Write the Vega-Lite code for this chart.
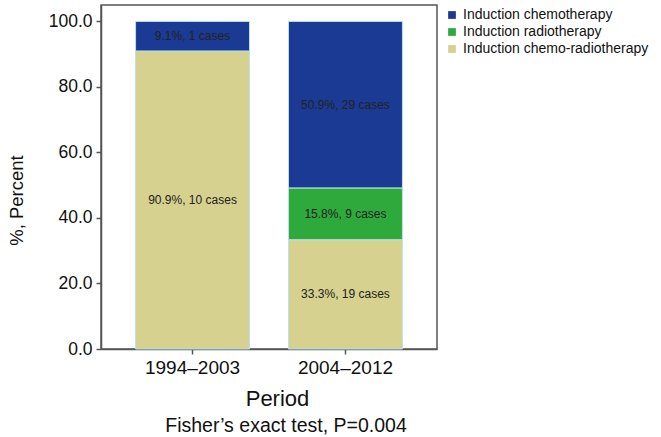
{
  "$schema": "https://vega.github.io/schema/vega-lite/v6.json",
  "width": 336,
  "height": 344,
  "autosize": {"type": "none"},
  "padding": {"left": 101, "top": 5, "right": 224, "bottom": 88},
  "background": "white",
  "config": {
    "view": {"stroke": "#555", "strokeWidth": 1.5},
    "font": "Liberation Sans"
  },
  "title": {
    "text": "Fisher’s exact test, P=0.004",
    "orient": "bottom",
    "anchor": "middle",
    "fontSize": 19.5,
    "fontWeight": "normal",
    "color": "#111",
    "font": "Liberation Sans",
    "offset": 8,
    "dx": 17
  },
  "data": {
    "values": [
      {"period": "1994–2003", "type": "Induction chemotherapy", "pct": 9.1, "cases": 1, "ord": 3},
      {"period": "1994–2003", "type": "Induction chemo-radiotherapy", "pct": 90.9, "cases": 10, "ord": 1},
      {"period": "2004–2012", "type": "Induction chemotherapy", "pct": 50.9, "cases": 29, "ord": 3},
      {"period": "2004–2012", "type": "Induction radiotherapy", "pct": 15.8, "cases": 9, "ord": 2},
      {"period": "2004–2012", "type": "Induction chemo-radiotherapy", "pct": 33.3, "cases": 19, "ord": 1}
    ]
  },
  "layer": [
    {
      "mark": {"type": "bar", "stroke": "#b9e1ea", "strokeWidth": 1},
      "encoding": {
        "x": {
          "field": "period", "type": "nominal",
          "scale": {"paddingInner": 0.255, "paddingOuter": 0.226},
          "axis": {
            "title": "Period", "labelAngle": 0, "labelFontSize": 19, "titleFontSize": 22,
            "titleFontWeight": "normal", "labelColor": "#111", "titleColor": "#111",
            "domainColor": "#555", "domainWidth": 1.5, "tickColor": "#555", "tickWidth": 1.5,
            "tickSize": 5, "labelPadding": 4, "titlePadding": 11, "titleX": 176
          }
        },
        "y": {
          "field": "pct", "type": "quantitative", "stack": "zero",
          "scale": {"domain": [0, 105], "nice": false},
          "axis": {
            "title": "%, Percent", "values": [0, 20, 40, 60, 80, 100], "format": ".1f",
            "grid": false, "labelFontSize": 17.5, "titleFontSize": 18.5, "titleFontWeight": "normal",
            "labelColor": "#111", "titleColor": "#111", "domainColor": "#555", "domainWidth": 1.5,
            "tickColor": "#555", "tickWidth": 1.5, "tickSize": 5, "labelPadding": 4,
            "titleY": 195, "titleX": -75
          }
        },
        "color": {
          "field": "type", "type": "nominal",
          "scale": {
            "domain": ["Induction chemotherapy", "Induction radiotherapy", "Induction chemo-radiotherapy"],
            "range": ["#1b3a93", "#2eaa3c", "#d6d18e"]
          },
          "legend": {
            "title": null, "orient": "none", "legendX": 344, "legendY": 3,
            "symbolType": "square", "symbolSize": 60, "symbolStrokeWidth": 0,
            "labelFontSize": 14, "labelColor": "#111", "labelOffset": 4, "rowPadding": 3,
            "labelLimit": 400,
            "labelExpr": "datum.label == 'Induction chemo-radiotherapy' ? 'Induction  chemo-radiotherapy' : datum.label"
          }
        },
        "order": {"field": "ord", "type": "quantitative"}
      }
    },
    {
      "transform": [
        {"stack": "pct", "groupby": ["period"], "sort": [{"field": "ord"}], "as": ["y0", "y1"]},
        {"calculate": "(datum.y0 + datum.y1) / 2", "as": "mid"},
        {"calculate": "format(datum.pct, '.1f') + '%, ' + datum.cases + ' cases'", "as": "label"}
      ],
      "mark": {"type": "text", "font": "Liberation Sans", "fontSize": 12, "color": "#222"},
      "encoding": {
        "x": {"field": "period", "type": "nominal"},
        "y": {"field": "mid", "type": "quantitative"},
        "text": {"field": "label"}
      }
    }
  ]
}
